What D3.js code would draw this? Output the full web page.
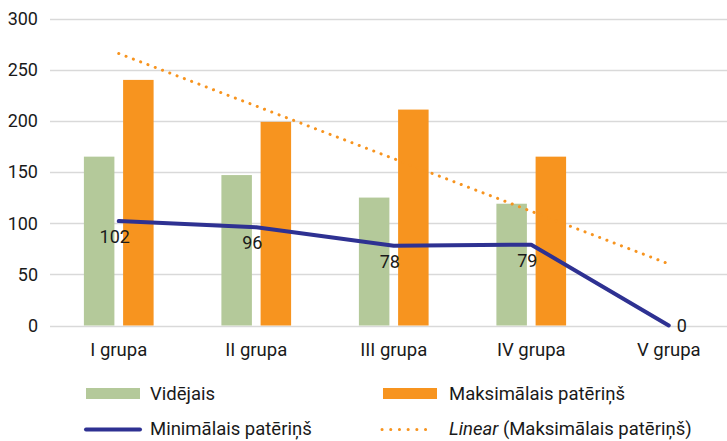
<!DOCTYPE html>
<html>
<head>
<meta charset="utf-8">
<script src="https://cdn.jsdelivr.net/npm/d3@7"></script>
<style>
  body { margin: 0; background: #fff; }
  text { font-family: Roboto, "Noto Sans", sans-serif; fill: #1a1a1a; }
</style>
</head>
<body>
<script>
// chart data
var categories = ["I grupa", "II grupa", "III grupa", "IV grupa", "V grupa"];
var videjais = [165, 147, 125, 119, null];
var maksimalais = [240, 199, 211, 165, null];
var minimalais = [102, 96, 78, 79, 0];
var yTicks = [0, 50, 100, 150, 200, 250, 300];

var width = 727, height = 441;
var plotLeft = 50, plotTop = 18.5, plotBottom = 325.5;

var svg = d3.select("body").append("svg")
    .attr("width", width)
    .attr("height", height);

var x = d3.scaleBand()
    .domain(categories)
    .range([plotLeft, plotLeft + 5 * 137.5]);

var y = d3.scaleLinear()
    .domain([0, 300])
    .range([plotBottom, plotTop]);

// gridlines
svg.append("g")
    .selectAll("line")
    .data(yTicks)
    .enter()
    .append("line")
    .attr("x1", plotLeft)
    .attr("x2", width)
    .attr("y1", d => Math.round(y(d)) + 0.5)
    .attr("y2", d => Math.round(y(d)) + 0.5)
    .attr("stroke", "#d9d9d9")
    .attr("stroke-width", 1.3);

// y axis labels
svg.append("g")
    .selectAll("text")
    .data(yTicks)
    .enter()
    .append("text")
    .attr("x", 38)
    .attr("y", d => y(d))
    .attr("dy", "0.36em")
    .attr("text-anchor", "end")
    .attr("font-size", 18)
    .text(d => d);

// x axis labels
svg.append("g")
    .selectAll("text")
    .data(categories)
    .enter()
    .append("text")
    .attr("x", d => x(d) + x.bandwidth() / 2)
    .attr("y", 356)
    .attr("text-anchor", "middle")
    .attr("font-size", 18.5)
    .text(d => d);

var barW = 30.5, gap = 8.7;

// green bars
svg.append("g")
    .selectAll("rect")
    .data(categories.filter((c, i) => videjais[i] != null))
    .enter()
    .append("rect")
    .attr("x", d => x(d) + x.bandwidth() / 2 - gap / 2 - barW)
    .attr("y", (d, i) => y(videjais[i]))
    .attr("width", barW)
    .attr("height", (d, i) => y(0) - y(videjais[i]))
    .attr("fill", "#b4c99a");

// orange bars
svg.append("g")
    .selectAll("rect")
    .data(categories.filter((c, i) => maksimalais[i] != null))
    .enter()
    .append("rect")
    .attr("x", d => x(d) + x.bandwidth() / 2 + gap / 2)
    .attr("y", (d, i) => y(maksimalais[i]))
    .attr("width", barW)
    .attr("height", (d, i) => y(0) - y(maksimalais[i]))
    .attr("fill", "#f7941f");

// linear trend of the max series (missing value counted as 0, like Excel)
var n = categories.length;
var ys = maksimalais.map(v => v == null ? 0 : v);
var mx = (n + 1) / 2, my = d3.mean(ys);
var sxy = 0, sxx = 0;
ys.forEach((v, i) => { sxy += (i + 1 - mx) * (v - my); sxx += (i + 1 - mx) * (i + 1 - mx); });
var slope = sxy / sxx, icpt = my - slope * mx;

svg.append("line")
    .attr("x1", x(categories[0]) + x.bandwidth() / 2)
    .attr("y1", y(icpt + slope * 1))
    .attr("x2", x(categories[n - 1]) + x.bandwidth() / 2)
    .attr("y2", y(icpt + slope * n))
    .attr("stroke", "#f7941f")
    .attr("stroke-width", 3)
    .attr("stroke-linecap", "round")
    .attr("stroke-dasharray", "0.1 7.7");

// min line
var line = d3.line()
    .x((d, i) => x(categories[i]) + x.bandwidth() / 2)
    .y(d => y(d));

svg.append("path")
    .datum(minimalais)
    .attr("d", line)
    .attr("fill", "none")
    .attr("stroke", "#2e3192")
    .attr("stroke-width", 4)
    .attr("stroke-linecap", "round")
    .attr("stroke-linejoin", "round");

// value labels
svg.append("g")
    .selectAll("text")
    .data(minimalais)
    .enter()
    .append("text")
    .attr("x", (d, i) => x(categories[i]) + x.bandwidth() / 2 + (i == n - 1 ? 8 : -4))
    .attr("y", (d, i) => i == n - 1 ? y(d) + 6.5 : y(d) + 22)
    .attr("text-anchor", (d, i) => i == n - 1 ? "start" : "middle")
    .attr("font-size", 18)
    .text(d => d);

// legend
var lg = svg.append("g");
var fs = 18.5;
lg.append("rect").attr("x", 86).attr("y", 388).attr("width", 54).attr("height", 11).attr("fill", "#b4c99a");
lg.append("text").attr("x", 150).attr("y", 399.5).attr("font-size", fs).text("Vidējais");
lg.append("rect").attr("x", 383).attr("y", 388).attr("width", 54).attr("height", 11).attr("fill", "#f7941f");
lg.append("text").attr("x", 449).attr("y", 399.5).attr("font-size", fs).text("Maksimālais patēriņš");
lg.append("line").attr("x1", 86).attr("x2", 140).attr("y1", 429.5).attr("y2", 429.5)
    .attr("stroke", "#2e3192").attr("stroke-width", 4).attr("stroke-linecap", "round");
lg.append("text").attr("x", 150).attr("y", 434.5).attr("font-size", fs).text("Minimālais patēriņš");
lg.append("line").attr("x1", 382).attr("x2", 434).attr("y1", 429.5).attr("y2", 429.5)
    .attr("stroke", "#f7941f").attr("stroke-width", 3).attr("stroke-linecap", "round")
    .attr("stroke-dasharray", "0.1 8.6");
var t = lg.append("text").attr("x", 449).attr("y", 434.5).attr("font-size", fs);
t.append("tspan").attr("font-style", "italic").text("Linear");
t.append("tspan").text(" (Maksimālais patēriņš)");
</script>
</body>
</html>
